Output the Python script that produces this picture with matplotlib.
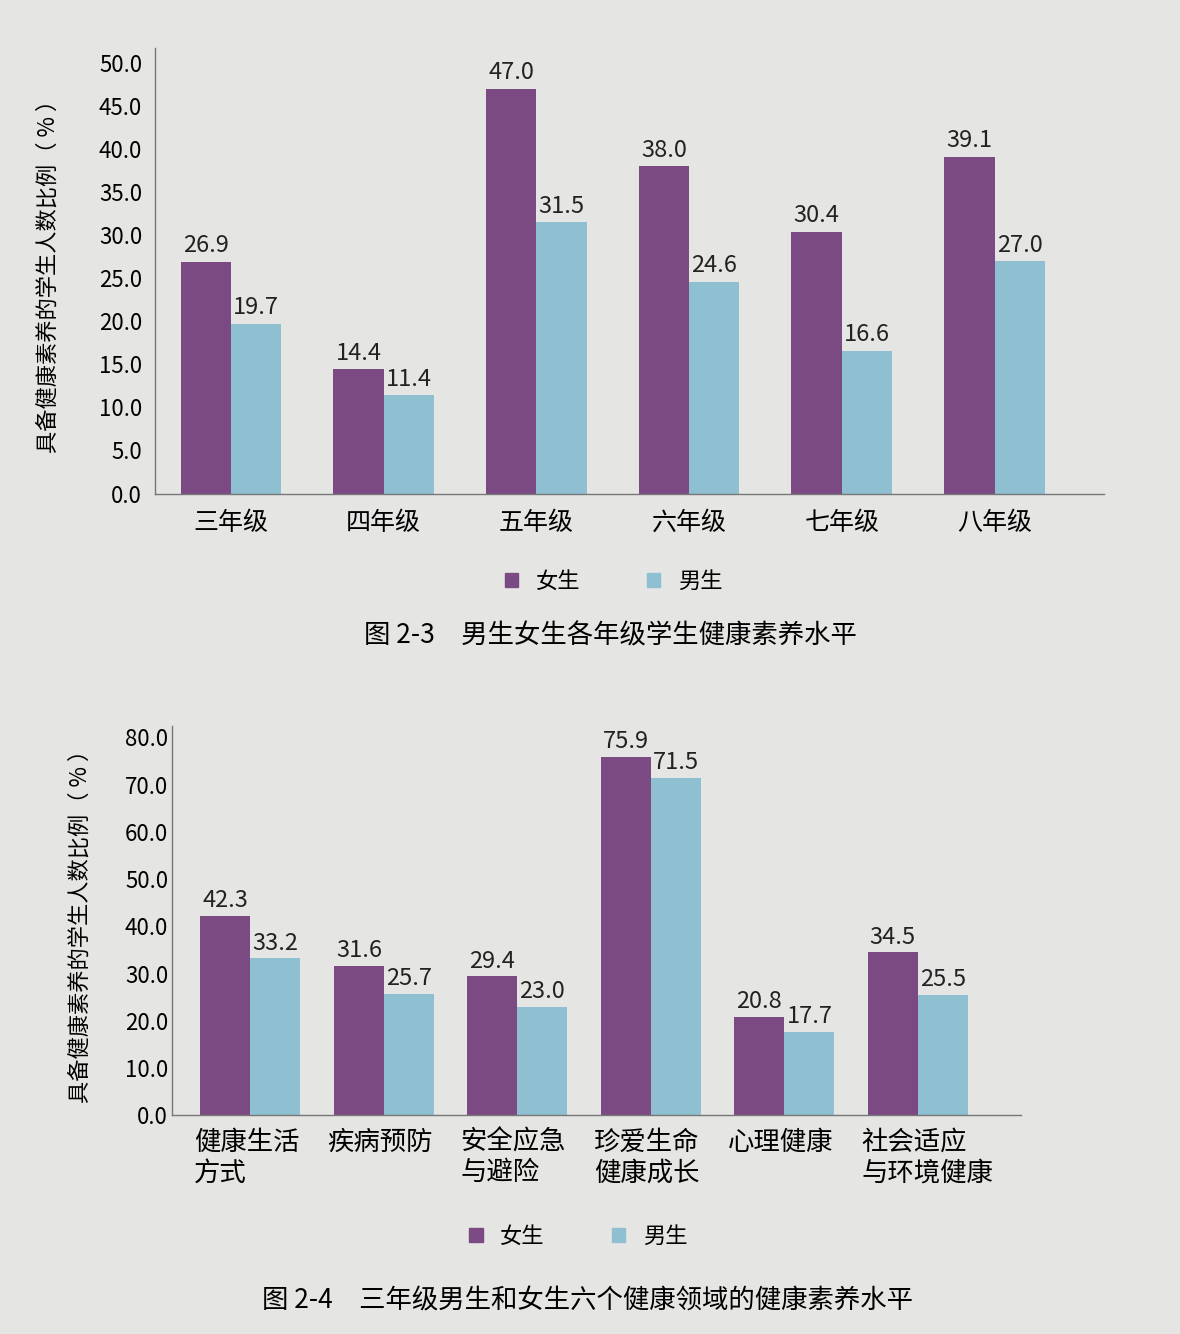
import numpy as np
import matplotlib.pyplot as plt
from matplotlib.patches import Patch

plt.rcParams['font.family'] = ['Noto Sans CJK SC', 'DejaVu Sans']

# 图 2-3 数据
grades = ["三年级", "四年级", "五年级", "六年级", "七年级", "八年级"]
girls_grade = [26.9, 14.4, 47.0, 38.0, 30.4, 39.1]
boys_grade = [19.7, 11.4, 31.5, 24.6, 16.6, 27.0]

# 图 2-4 数据
domains = ["健康生活\n方式", "疾病预防", "安全应急\n与避险", "珍爱生命\n健康成长", "心理健康", "社会适应\n与环境健康"]
girls_domain = [42.3, 31.6, 29.4, 75.9, 20.8, 34.5]
boys_domain = [33.2, 25.7, 23.0, 71.5, 17.7, 25.5]

purple = "#7b4a82"
blue = "#8fc0d2"
bg = "#e5e5e3"
ylabel = "具备健康素养的学生人数比例（ % ）"

fig = plt.figure(figsize=(11.8, 13.34), dpi=100, facecolor=bg)


def style(ax, ymax, step, pad):
    ax.set_facecolor(bg)
    for s in ["top", "right"]:
        ax.spines[s].set_visible(False)
    for s in ["left", "bottom"]:
        ax.spines[s].set_color("#777777")
        ax.spines[s].set_linewidth(1.0)
    ax.set_ylim(0, ymax)
    ticks = np.arange(0, ymax, step)
    ax.set_yticks(ticks)
    ax.set_yticklabels([f"{t:.1f}" for t in ticks], fontsize=16)
    ax.tick_params(length=0)
    ax.tick_params(axis="y", pad=pad)


def labels(ax, bars, vals, off):
    for b, v in zip(bars, vals):
        ax.text(b.get_x() + b.get_width() / 2, v + off,
                f"{v:.1f}", ha="center", va="bottom", fontsize=17, color="#222222")


# 上图
ax1 = fig.add_axes([0.131, 0.630, 0.805, 0.334])
x = np.arange(len(grades))
w = 0.33
style(ax1, 51.7, 5, 9)
b1 = ax1.bar(x - w / 2, girls_grade, w, color=purple)
b2 = ax1.bar(x + w / 2, boys_grade, w, color=blue)
labels(ax1, b1, girls_grade, 0.5)
labels(ax1, b2, boys_grade, 0.5)
ax1.set_xlim(-0.5, 5.72)
ax1.set_xticks(x)
ax1.set_xticklabels(grades, fontsize=18)
ax1.tick_params(axis="x", pad=12)
ax1.set_ylabel(ylabel, fontsize=16, labelpad=28)

fig.legend(handles=[Patch(color=purple, label="女生"), Patch(color=blue, label="男生")],
           loc="center", bbox_to_anchor=(0.52, 0.564), ncol=2, frameon=False,
           fontsize=16, handlelength=0.6, handleheight=0.6, columnspacing=3)
fig.text(0.517, 0.523, "图 2-3　男生女生各年级学生健康素养水平", ha="center", va="center", fontsize=19)

# 下图
ax2 = fig.add_axes([0.146, 0.164, 0.719, 0.292])
x2 = np.arange(len(domains))
w2 = 0.375
style(ax2, 82.5, 10, 3)
c1 = ax2.bar(x2 - w2 / 2, girls_domain, w2, color=purple)
c2 = ax2.bar(x2 + w2 / 2, boys_domain, w2, color=blue)
labels(ax2, c1, girls_domain, 0.8)
labels(ax2, c2, boys_domain, 0.8)
ax2.set_xlim(-0.585, 5.77)
ax2.set_xticks(x2 - w2 - 0.05)
ax2.set_xticklabels(domains, fontsize=19, ha="left", linespacing=1.15)
ax2.tick_params(axis="x", pad=10)
ax2.set_ylabel(ylabel, fontsize=16, labelpad=24)

fig.legend(handles=[Patch(color=purple, label="女生"), Patch(color=blue, label="男生")],
           loc="center", bbox_to_anchor=(0.49, 0.073), ncol=2, frameon=False,
           fontsize=16, handlelength=0.6, handleheight=0.6, columnspacing=3)
fig.text(0.498, 0.025, "图 2-4　三年级男生和女生六个健康领域的健康素养水平", ha="center", va="center", fontsize=19)

fig.savefig("out.png", dpi=100, facecolor=bg)
